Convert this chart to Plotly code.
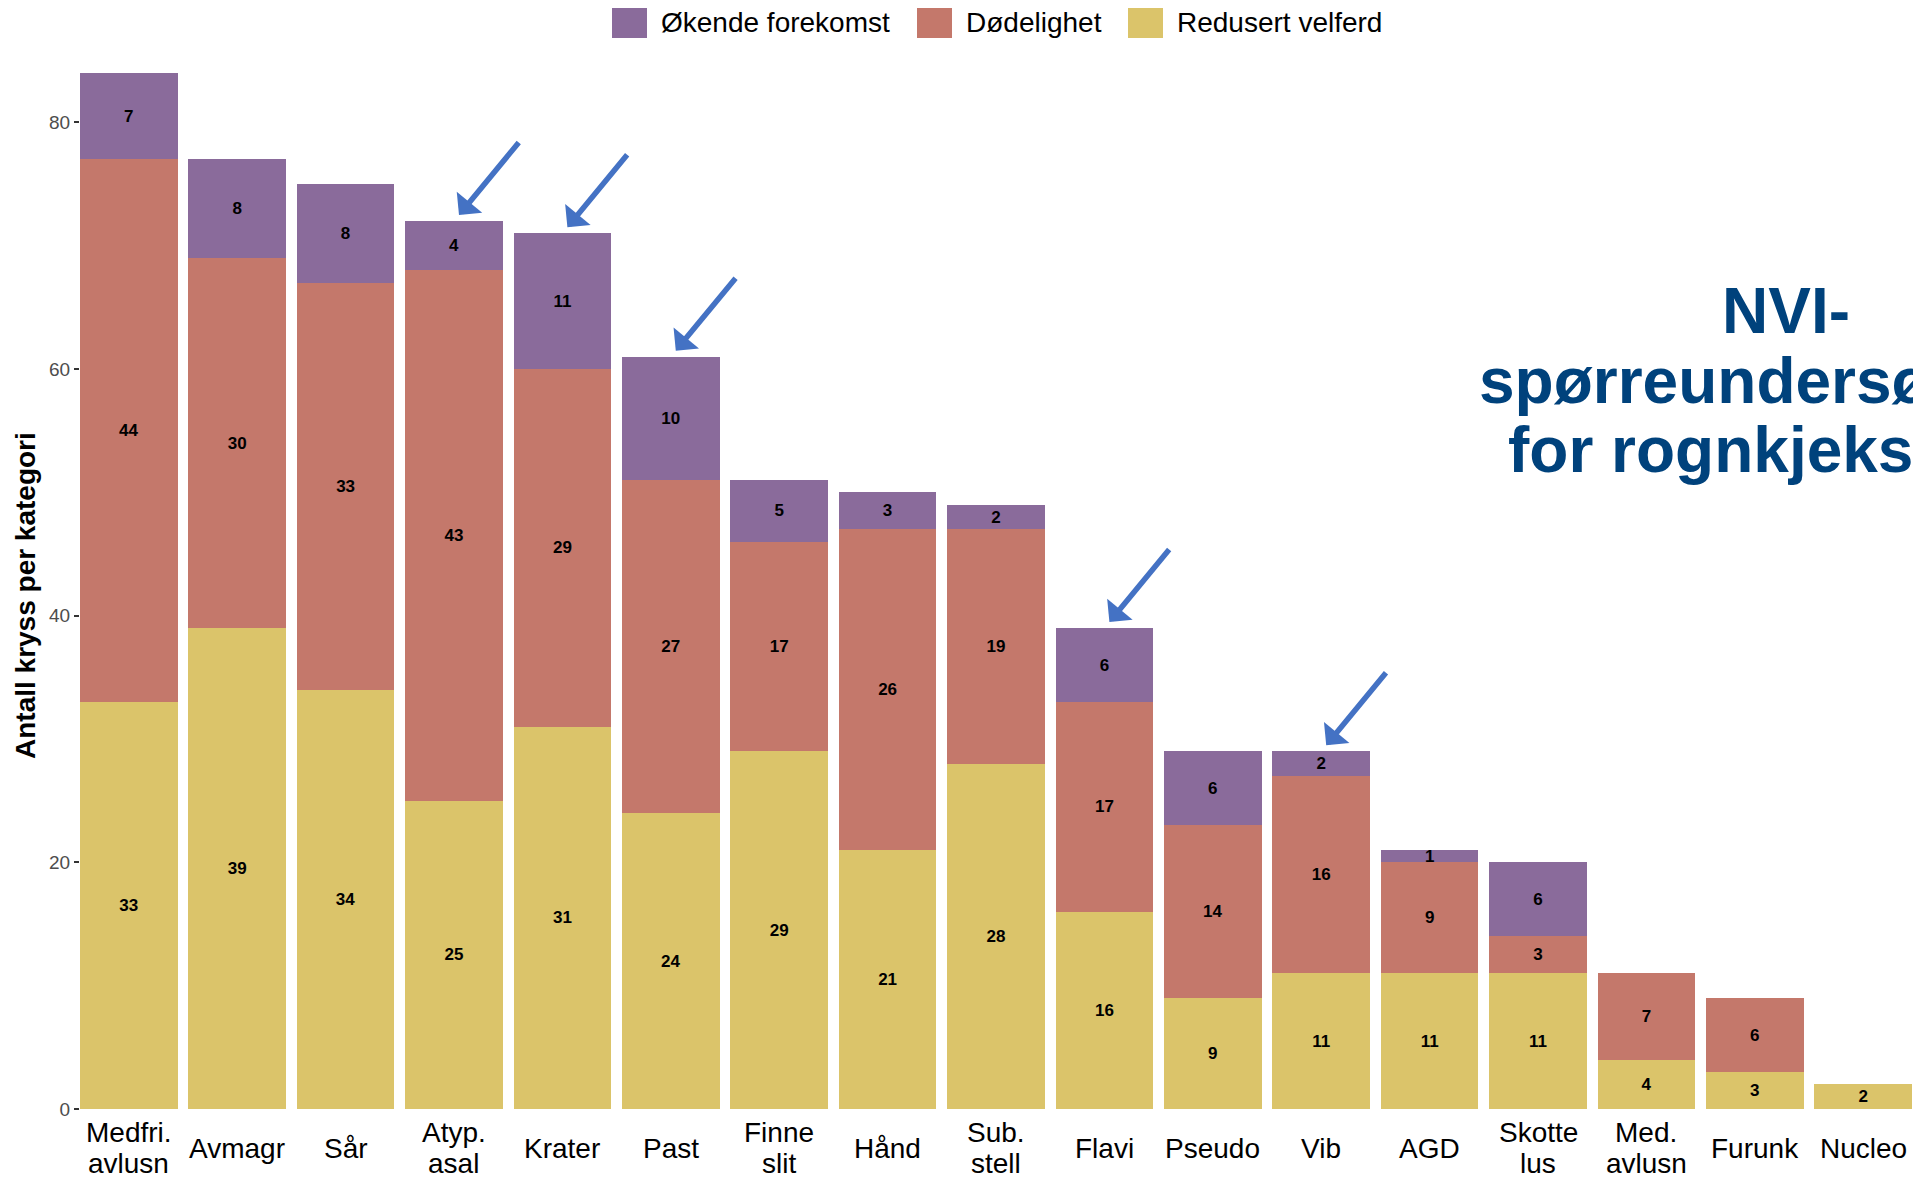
import plotly.graph_objects as go

# ---- data ----
categories = ["Medfri.<br>avlusn", "Avmagr", "Sår", "Atyp.<br>asal", "Krater", "Past",
              "Finne<br>slit", "Hånd", "Sub.<br>stell", "Flavi", "Pseudo", "Vib", "AGD",
              "Skotte<br>lus", "Med.<br>avlusn", "Furunk", "Nucleo"]
redusert_velferd = [33, 39, 34, 25, 31, 24, 29, 21, 28, 16, 9, 11, 11, 11, 4, 3, 2]
dodelighet = [44, 30, 33, 43, 29, 27, 17, 26, 19, 17, 14, 16, 9, 3, 7, 6, 0]
okende_forekomst = [7, 8, 8, 4, 11, 10, 5, 3, 2, 6, 6, 2, 1, 6, 0, 0, 0]
series_names = ["Økende forekomst", "Dødelighet", "Redusert velferd"]
highlighted = ["Atyp.<br>asal", "Krater", "Past", "Flavi", "Vib"]
y_ticks = [0, 20, 40, 60, 80]
title_lines = ["NVI-", "spørreundersø", "for rognkjeks"]
y_title = "Antall kryss per kategori"

# ---- style / layout (page pixels; the page body adds an 8 px offset) ----
OFF = 8
PAGE_W, PAGE_H = 1921, 1182
W, H = PAGE_W - OFF, PAGE_H - OFF
PLOT_L, PLOT_R, PLOT_T, PLOT_B = 80, 1912, 73, 1109   # page pixels
ML, MR = PLOT_L - OFF, W - (PLOT_R - OFF)
MT, MB = PLOT_T - OFF, H - (PLOT_B - OFF)
C_PURPLE = "#8A6B9B"
C_RED = "#C4786B"
C_YELLOW = "#DBC46A"
C_ARROW = "#4472C4"
C_TITLE = "#00427C"
FONT = "Liberation Sans, Arial, sans-serif"

def px_x(p):
    return (p - PLOT_L) / (PLOT_R - PLOT_L)

def px_y(p):
    return (PLOT_B - p) / (PLOT_B - PLOT_T)

x_idx = list(range(len(categories)))

def labels(vals):
    return [str(v) if v else "" for v in vals]

fig = go.Figure()
for name, vals, col in [(series_names[2], redusert_velferd, C_YELLOW),
                        (series_names[1], dodelighet, C_RED),
                        (series_names[0], okende_forekomst, C_PURPLE)]:
    fig.add_trace(go.Bar(
        x=x_idx, y=vals, name=name, marker=dict(color=col, line=dict(width=0)),
        text=labels(vals), textposition="inside", insidetextanchor="middle",
        textangle=0, constraintext="none",
        textfont=dict(family=FONT, size=17, color="black", weight="bold"),
        showlegend=False,
    ))

totals = [a + b + c for a, b, c in zip(redusert_velferd, dodelighet, okende_forekomst)]

annotations = []
# category labels (vertically centred, tight line spacing)
for i, lab in enumerate(categories):
    lines = lab.split("<br>")
    n = len(lines)
    for j, ln in enumerate(lines):
        annotations.append(dict(
            x=i, xref="x", y=px_y(1148), yref="paper", text=ln, showarrow=False,
            xanchor="center", yanchor="middle", yshift=-(j - (n - 1) / 2) * 31,
            font=dict(family=FONT, size=28, color="black")))

# arrows
for cat in highlighted:
    i = categories.index(cat)
    annotations.append(dict(
        x=i, y=totals[i], xref="x", yref="y", text="", showarrow=True,
        ax=61, ay=-74, xshift=5, yshift=6, arrowhead=1, arrowsize=1.0,
        arrowwidth=5.5, arrowcolor=C_ARROW))

# y title
annotations.append(dict(
    x=px_x(26), y=px_y(596), xref="paper", yref="paper", text=y_title,
    textangle=-90, showarrow=False, xanchor="center", yanchor="middle",
    font=dict(family=FONT, size=28, color="black", weight="bold")))

# title block
for txt, xl, yc in zip(title_lines, [1720, 1477, 1506], [311.5, 380.5, 449.5]):
    annotations.append(dict(
        x=px_x(xl), y=px_y(yc), xref="paper", yref="paper", text=txt,
        showarrow=False, xanchor="left", yanchor="middle",
        font=dict(family=FONT, size=64, color=C_TITLE, weight="bold")))

# legend (manual)
shapes = []
legend_items = [(series_names[0], C_PURPLE, 612, 659),
                (series_names[1], C_RED, 917, 964),
                (series_names[2], C_YELLOW, 1128, 1175)]
for name, col, sx, tx in legend_items:
    shapes.append(dict(type="rect", xref="paper", yref="paper",
                       x0=px_x(sx), x1=px_x(sx + 35), y0=px_y(38), y1=px_y(5),
                       fillcolor=col, line=dict(width=0)))
    annotations.append(dict(
        x=px_x(tx), y=px_y(22), xref="paper", yref="paper", text=name,
        showarrow=False, xanchor="left", yanchor="middle",
        font=dict(family=FONT, size=28, color="black")))

fig.update_layout(
    width=W, height=H, barmode="stack", bargap=0.1,
    margin=dict(l=ML, r=MR, t=MT, b=MB, pad=0),
    paper_bgcolor="white", plot_bgcolor="white",
    annotations=annotations, shapes=shapes,
    xaxis=dict(range=[-0.45, len(categories) - 0.55], showticklabels=False,
               showgrid=False, zeroline=False, showline=False, ticks=""),
    yaxis=dict(range=[0, 84], tickvals=y_ticks, ticks="outside", ticklen=5,
               tickwidth=2, tickcolor="#333333", showgrid=False, zeroline=False,
               showline=False,
               tickfont=dict(family=FONT, size=19, color="#4D4D4D")),
)

fig.write_html("out.html")
